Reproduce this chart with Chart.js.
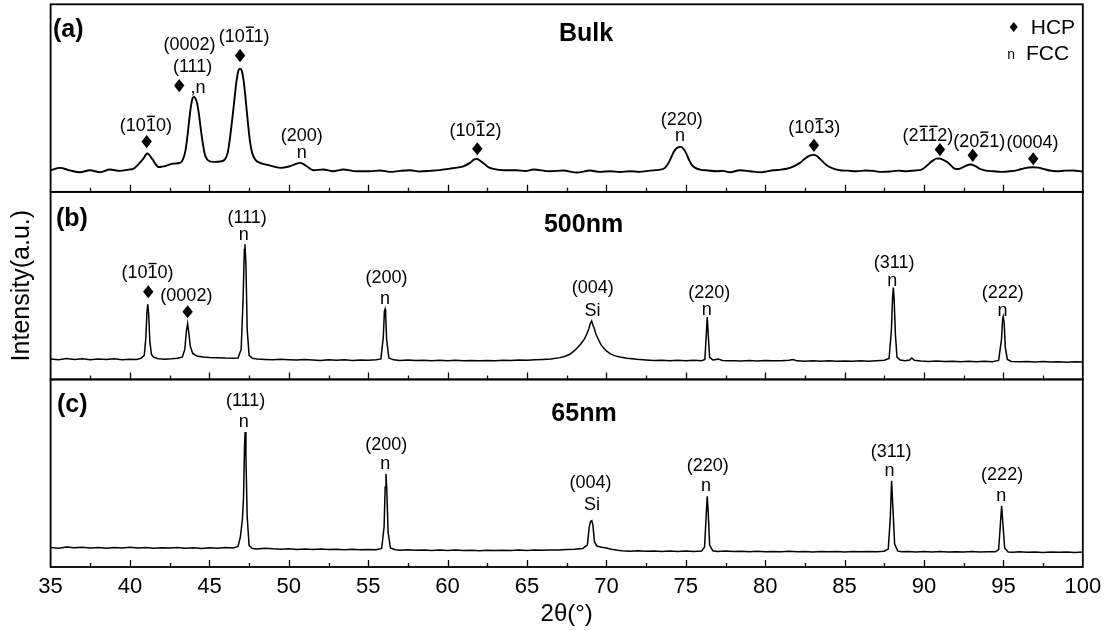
<!DOCTYPE html>
<html>
<head>
<meta charset="utf-8">
<title>XRD patterns</title>
<script src="https://cdn.jsdelivr.net/npm/chart.js@4.4.1/dist/chart.umd.min.js"></script>
<style>
  html, body { margin: 0; padding: 0; background: #fff; }
  #wrap { width: 1107px; height: 631px; }
</style>
</head>
<body>
<div id="wrap"><canvas id="xrd" width="1107" height="631"></canvas></div>
<script>
// ---- Diffraction data: 2θ (degrees) and intensity (a.u.) ----

// (a) Bulk sample
const bulkTwoTheta = [
  35.0,35.59,36.2,36.85,37.48,38.11,38.74,39.37,39.9,40.21,
  40.45,40.63,40.85,41.0,41.09,41.2,41.32,41.47,41.62,41.78,
  42.0,42.31,42.73,43.15,43.35,43.5,43.62,43.73,43.84,43.94,
  44.03,44.12,44.22,44.32,44.45,44.58,44.72,44.9,45.25,45.77,
  46.0,46.15,46.28,46.42,46.56,46.7,46.82,46.93,47.04,47.15,
  47.28,47.42,47.56,47.7,47.9,48.19,48.82,49.45,50.07,50.45,
  50.7,50.95,51.13,51.54,52.17,52.8,53.43,54.28,55.11,55.75,
  56.37,57.0,57.63,58.25,58.89,59.5,60.15,60.6,60.99,61.41,
  61.65,61.83,62.05,62.36,62.6,62.88,63.51,64.35,64.9,65.4,
  66.45,67.29,68.13,68.97,69.6,70.23,70.85,71.49,72.1,72.75,
  73.3,73.69,73.95,74.11,74.3,74.5,74.7,74.88,75.01,75.2,
  75.37,75.6,75.89,76.4,76.94,77.35,77.78,78.41,79.04,79.67,
  80.1,80.51,81.0,81.56,82.19,82.45,82.71,82.9,83.07,83.25,
  83.45,83.7,83.97,84.3,84.71,85.2,85.76,86.3,86.81,87.3,
  87.86,88.4,88.91,89.4,89.85,90.1,90.38,90.6,90.8,90.96,
  91.15,91.35,91.53,91.75,91.96,92.1,92.27,92.6,92.9,93.2,
  93.53,93.9,94.37,94.9,95.41,95.9,96.25,96.6,96.88,97.2,
  97.51,97.9,98.35,98.9,99.4,100
];
const bulkIntensity = [
  216,240,215,196,216,196,223,210,222,230,
  262,293,335,372,383,372,345,313,275,248,
  252,263,283,290,330,420,560,720,860,935,
  950,935,890,800,640,490,370,318,300,306,
  330,390,520,700,900,1100,1210,1233,1210,1120,
  930,700,500,385,320,290,263,240,256,280,
  290,275,256,216,223,206,223,206,206,214,
  200,210,216,204,210,218,233,243,256,290,
  322,330,312,273,245,230,216,216,208,223,
  206,213,193,213,200,206,198,206,200,213,
  220,240,300,356,415,445,450,425,390,320,
  273,240,223,214,206,210,196,216,206,196,
  205,216,222,240,290,325,355,368,370,358,
  330,290,256,232,216,212,206,214,210,200,
  203,212,206,214,223,250,290,318,332,333,
  325,308,290,255,230,228,233,258,273,260,
  230,212,206,200,206,218,233,244,246,242,
  230,214,206,212,213,203
];

// (b) 500 nm film
const film500TwoTheta = [
  35.0,35.5,36.0,36.5,37.0,37.5,38.0,38.5,39.0,39.5,
  40.0,40.4,40.7,40.9,41.0,41.07,41.12,41.18,41.25,41.35,
  41.5,41.8,42.2,42.6,43.0,43.3,43.45,43.55,43.63,43.7,
  43.8,43.95,44.2,44.6,45.0,45.5,46.0,46.5,46.8,47.0,
  47.12,47.2,47.24,47.3,47.38,47.5,47.7,48.0,48.5,49.0,
  49.5,50.0,50.5,51.0,51.5,52.0,52.5,53.0,53.5,54.0,
  54.5,55.0,55.5,55.8,55.95,56.02,56.06,56.1,56.16,56.3,
  56.6,57.0,57.5,58.0,58.5,59.0,59.5,60.0,60.5,61.0,
  61.5,62.0,62.5,63.0,63.5,64.0,64.5,65.0,65.5,66.0,
  66.5,67.08,67.4,67.71,68.0,68.34,68.6,68.76,68.9,68.97,
  69.07,69.15,69.22,69.35,69.49,69.65,69.8,70.0,70.23,70.5,
  70.86,71.3,71.91,72.5,73.0,73.5,74.0,74.5,75.0,75.5,
  76.0,76.2,76.28,76.35,76.42,76.5,76.7,77.05,77.3,77.7,
  78.0,78.5,79.0,79.5,80.0,80.5,81.0,81.5,81.75,82.0,
  82.5,83.0,83.5,84.0,84.5,85.0,85.5,86.0,86.5,87.0,
  87.5,87.8,87.95,88.02,88.07,88.12,88.2,88.3,88.5,88.8,
  89.1,89.23,89.4,89.8,90.3,90.8,91.3,91.8,92.3,92.8,
  93.3,93.8,94.3,94.7,94.88,94.95,94.99,95.05,95.12,95.25,
  95.5,96.0,96.5,97.0,97.5,98.0,98.5,99.0,99.5,100
];
const film500Intensity = [
  205,198,210,200,207,196,204,199,208,197,
  203,200,212,240,420,680,752,640,380,250,
  220,208,202,206,212,225,300,480,558,470,
  330,260,235,225,220,218,214,212,215,300,
  800,1300,1352,1150,500,240,212,205,200,196,
  202,198,194,200,195,190,197,192,196,189,
  195,191,196,205,420,680,702,650,400,215,
  196,190,194,189,193,188,192,186,191,188,
  190,186,190,187,192,189,194,192,196,200,
  205,218,232,252,290,345,400,452,510,552,
  585,545,518,450,402,350,318,285,258,238,
  225,212,202,195,190,193,188,192,187,191,
  188,200,420,625,430,220,195,203,190,186,
  188,184,189,185,190,186,188,192,200,186,
  183,187,182,186,181,185,182,186,183,187,
  192,210,500,820,918,800,450,220,195,188,
  195,215,192,184,180,184,179,183,178,182,
  177,181,178,190,400,600,628,560,320,200,
  180,176,180,175,179,174,178,173,177,174
];

// (c) 65 nm film
const film65TwoTheta = [
  35.0,35.5,36.0,36.5,37.0,37.5,38.0,38.5,39.0,39.5,
  40.0,40.5,41.0,41.5,42.0,42.5,43.0,43.5,44.0,44.5,
  45.0,45.5,46.0,46.5,46.8,46.95,47.08,47.15,47.21,47.25,
  47.3,47.38,47.5,47.7,48.0,48.5,49.0,49.5,50.0,50.5,
  51.0,51.5,52.0,52.5,53.0,53.5,54.0,54.5,55.0,55.5,
  55.85,56.0,56.07,56.12,56.17,56.25,56.4,56.7,57.0,57.5,
  58.0,58.5,59.0,59.5,60.0,60.5,61.0,61.5,62.0,62.5,
  63.0,63.5,64.0,64.5,65.0,65.5,66.0,66.5,67.0,67.5,
  68.0,68.5,68.8,68.92,69.0,69.08,69.15,69.25,69.4,69.7,
  70.0,70.3,70.7,71.0,71.5,72.0,72.5,73.0,73.5,74.0,
  74.5,75.0,75.5,76.0,76.18,76.28,76.35,76.42,76.5,76.7,
  77.0,77.5,78.0,78.5,79.0,79.5,80.0,80.5,81.0,81.5,
  82.0,82.5,83.0,83.5,84.0,84.5,85.0,85.5,86.0,86.5,
  87.0,87.5,87.75,87.88,87.96,88.04,88.15,88.35,88.6,89.0,
  89.5,90.0,90.5,91.0,91.5,92.0,92.5,93.0,93.5,94.0,
  94.5,94.7,94.82,94.89,94.96,95.08,95.3,95.6,96.0,96.5,
  97.0,97.5,98.0,98.5,99.0,99.5,100
];
const film65Intensity = [
  195,188,200,192,198,190,196,187,194,190,
  197,189,195,188,193,190,196,188,192,186,
  193,187,195,190,205,300,480,700,1200,1351,
  1100,500,215,185,180,188,182,178,182,176,
  180,175,179,174,178,173,177,172,176,173,
  185,400,800,930,780,350,190,172,168,172,
  167,171,166,170,165,169,164,168,163,167,
  164,168,165,169,166,170,167,171,170,174,
  178,185,220,400,455,463,420,250,210,198,
  190,178,168,162,158,162,157,161,156,160,
  155,159,156,160,200,500,708,520,220,162,
  156,160,154,158,153,157,152,156,153,157,
  152,156,151,155,152,156,151,155,152,156,
  153,158,180,500,862,600,230,160,152,156,
  151,155,150,154,149,153,150,154,149,153,
  152,175,450,613,450,190,150,148,152,147,
  151,146,150,147,151,146,149
];

// x-axis tick labels (2θ, degrees)
const xTickLabels = [35, 40, 45, 50, 55, 60, 65, 70, 75, 80, 85, 90, 95, 100];

// ---- Peak indexing (anchored in 2θ / intensity units of each panel) ----
// kind 't' = text label, 'd' = HCP diamond marker; '^' puts an overbar on the next character
const bulkMarks = [
  ['t', '(10^10)', 41.0, 656], ['d', '', 41.05, 503],
  ['t', '(0002)', 43.75, 1465], ['t', '(111)', 43.94, 1248],
  ['d', '', 43.10, 1063], ['t', ',n', 44.28, 1036],
  ['t', '(10^11)', 47.19, 1548], ['d', '', 46.93, 1363],
  ['t', '(200)', 50.81, 556], ['t', 'n', 50.81, 385],
  ['t', '(10^12)', 61.76, 606], ['d', '', 61.87, 431],
  ['t', '(220)', 74.75, 715], ['t', 'n', 74.64, 556],
  ['t', '(10^13)', 83.09, 631], ['d', '', 83.07, 465],
  ['t', '(2^1^12)', 90.25, 556], ['d', '', 91.0, 423],
  ['t', '(20^21)', 93.48, 498], ['d', '', 93.07, 365],
  ['t', '(0004)', 96.83, 481], ['d', '', 96.88, 331]
];
const film500Marks = [
  ['t', '(10^10)', 41.10, 1060], ['d', '', 41.15, 877],
  ['t', '(0002)', 43.55, 832], ['d', '', 43.63, 677],
  ['t', '(111)', 47.38, 1610], ['t', 'n', 47.16, 1438],
  ['t', '(200)', 56.15, 1010], ['t', 'n', 56.06, 802],
  ['t', '(004)', 69.14, 910], ['t', 'Si', 69.12, 684],
  ['t', '(220)', 76.47, 863], ['t', 'n', 76.32, 693],
  ['t', '(311)', 88.12, 1160], ['t', 'n', 88.0, 985],
  ['t', '(222)', 94.96, 860], ['t', 'n', 94.95, 685]
];
const film65Marks = [
  ['t', '(111)', 47.28, 1654], ['t', 'n', 47.17, 1445],
  ['t', '(200)', 56.14, 1222], ['t', 'n', 56.08, 1025],
  ['t', '(004)', 69.0, 836], ['t', 'Si', 69.1, 617],
  ['t', '(220)', 76.38, 1004], ['t', 'n', 76.27, 804],
  ['t', '(311)', 87.93, 1152], ['t', 'n', 87.83, 954],
  ['t', '(222)', 94.92, 913], ['t', 'n', 94.87, 708]
];

const panelLetters = ['(a)', '(b)', '(c)'];
const sampleNames = ['Bulk', '500nm', '65nm'];

// ---- Rendering ----
const FONT = '"Liberation Sans", Arial, Helvetica, sans-serif';
Chart.defaults.font.family = FONT;
Chart.defaults.color = '#000';

const Y_MAX = 1876;
const panels = [
  { id: 'yA', xs: bulkTwoTheta, ys: bulkIntensity, lw: 1.9, smooth: true, marks: bulkMarks,
    letter: [35.15, 1618], name: [68.72, 1578] },
  { id: 'yB', xs: film500TwoTheta, ys: film500Intensity, lw: 1.5, smooth: false, marks: film500Marks,
    letter: [35.34, 1597], name: [68.56, 1540] },
  { id: 'yC', xs: film65TwoTheta, ys: film65Intensity, lw: 1.5, smooth: false, marks: film65Marks,
    letter: [35.40, 1618], name: [68.59, 1522] }
];

function toPoints(xs, ys) {
  return xs.map((x, i) => ({ x: x, y: ys[i] }));
}

// text whose vertical visual centre sits on cy; '^' marks an overlined character
function drawIndexed(ctx, str, cx, cy, size, weight, align) {
  const chars = [];
  for (let i = 0; i < str.length; i++) {
    if (str[i] === '^') { chars.push({ c: str[i + 1], bar: true }); i++; }
    else chars.push({ c: str[i], bar: false });
  }
  const plain = chars.map(o => o.c).join('');
  ctx.font = (weight || 'normal') + ' ' + size + 'px ' + FONT;
  ctx.textAlign = 'left';
  ctx.textBaseline = 'alphabetic';
  const w = ctx.measureText(plain).width;
  const x0 = align === 'left' ? cx : cx - w / 2;
  const base = cy + 0.26 * size;
  ctx.fillText(plain, x0, base);
  let acc = '';
  chars.forEach(o => {
    const cw = ctx.measureText(o.c).width;
    if (o.bar) {
      const bx = x0 + ctx.measureText(acc).width;
      ctx.fillRect(bx + 1, base - 0.85 * size, cw - 2, 1.4);
    }
    acc += o.c;
  });
}

function drawDiamond(ctx, x, y, hw, hh) {
  ctx.beginPath();
  ctx.moveTo(x, y - hh);
  ctx.lineTo(x + hw, y);
  ctx.lineTo(x, y + hh);
  ctx.lineTo(x - hw, y);
  ctx.closePath();
  ctx.fill();
}

const xrdDecor = {
  id: 'xrdDecor',
  afterDatasetsDraw(chart) {
    const ctx = chart.ctx;
    const xs = chart.scales.x;
    const area = chart.chartArea;
    ctx.save();
    ctx.strokeStyle = '#000';
    ctx.fillStyle = '#000';

    panels.forEach((p, k) => {
      const ys = chart.scales[p.id];
      // inward tick marks on the lower edge of each panel
      ctx.lineWidth = 1.3;
      ctx.beginPath();
      for (let v = 37.5; v < 100; v += 2.5) {
        const px = Math.round(xs.getPixelForValue(v)) + 0.5;
        const len = (v % 5 === 0) ? 7 : 4;
        ctx.moveTo(px, ys.bottom);
        ctx.lineTo(px, ys.bottom - len);
      }
      ctx.stroke();
      // panel frame
      ctx.lineWidth = 1.8;
      ctx.strokeRect(area.left, ys.top, area.right - area.left, ys.bottom - ys.top);

      // panel letter and sample name
      drawIndexed(ctx, panelLetters[k], xs.getPixelForValue(p.letter[0]),
        ys.getPixelForValue(p.letter[1]), 25, 'bold', 'left');
      drawIndexed(ctx, sampleNames[k], xs.getPixelForValue(p.name[0]),
        ys.getPixelForValue(p.name[1]), 25, 'bold', 'center');

      // peak indexing
      p.marks.forEach(m => {
        const px = xs.getPixelForValue(m[2]);
        const py = ys.getPixelForValue(m[3]);
        if (m[0] === 'd') drawDiamond(ctx, px, py, 5.2, 6.6);
        else drawIndexed(ctx, m[1], px, py, 18, 'normal', 'center');
      });
    });

    // phase key in panel (a)
    const ya = chart.scales.yA;
    drawDiamond(ctx, xs.getPixelForValue(95.65), ya.getPixelForValue(1648), 4, 5);
    drawIndexed(ctx, 'HCP', xs.getPixelForValue(96.72), ya.getPixelForValue(1636), 21, 'normal', 'left');
    drawIndexed(ctx, 'n', xs.getPixelForValue(95.49), ya.getPixelForValue(1370), 14, 'normal', 'center');
    drawIndexed(ctx, 'FCC', xs.getPixelForValue(96.42), ya.getPixelForValue(1370), 21, 'normal', 'left');

    // shared intensity axis title
    ctx.save();
    ctx.translate(21.7, (area.top + area.bottom) / 2);
    ctx.rotate(-Math.PI / 2);
    ctx.font = '25px ' + FONT;
    ctx.textAlign = 'center';
    ctx.textBaseline = 'middle';
    ctx.fillText('Intensity(a.u.)', 0, 0);
    ctx.restore();

    ctx.restore();
  }
};

function yScale(weight) {
  return {
    type: 'linear',
    position: 'left',
    stack: 'xrd',
    stackWeight: 1,
    weight: weight,
    min: 0,
    max: Y_MAX,
    display: true,
    ticks: { display: false },
    grid: { display: false, drawTicks: false },
    border: { display: false },
    afterFit(s) { s.width = 0; }
  };
}

new Chart(document.getElementById('xrd'), {
  type: 'line',
  data: {
    datasets: panels.map(p => ({
      label: p.id,
      data: toPoints(p.xs, p.ys),
      yAxisID: p.id,
      borderColor: '#000',
      borderWidth: p.lw,
      pointRadius: 0,
      fill: false,
      tension: 0,
      cubicInterpolationMode: p.smooth ? 'monotone' : 'default'
    }))
  },
  options: {
    responsive: false,
    animation: false,
    devicePixelRatio: 1,
    layout: { padding: { left: 50.6, right: 24.2, top: 4.3, bottom: 0 } },
    plugins: { legend: { display: false }, tooltip: { enabled: false } },
    scales: {
      x: {
        type: 'linear',
        min: 35,
        max: 100,
        afterBuildTicks(s) { s.ticks = xTickLabels.map(v => ({ value: v })); },
        ticks: { color: '#000', font: { size: 22 }, padding: 7, maxRotation: 0, autoSkip: false },
        grid: { display: false, drawTicks: false },
        border: { display: false },
        title: { display: true, text: '2θ(°)', color: '#000', font: { size: 24 }, padding: { top: 0, bottom: 2 } },
        afterFit(s) { s.height = 64; s.paddingLeft = 0; s.paddingRight = 0; }
      },
      yA: yScale(3),
      yB: yScale(2),
      yC: yScale(1)
    }
  },
  plugins: [xrdDecor]
});
</script>
</body>
</html>
